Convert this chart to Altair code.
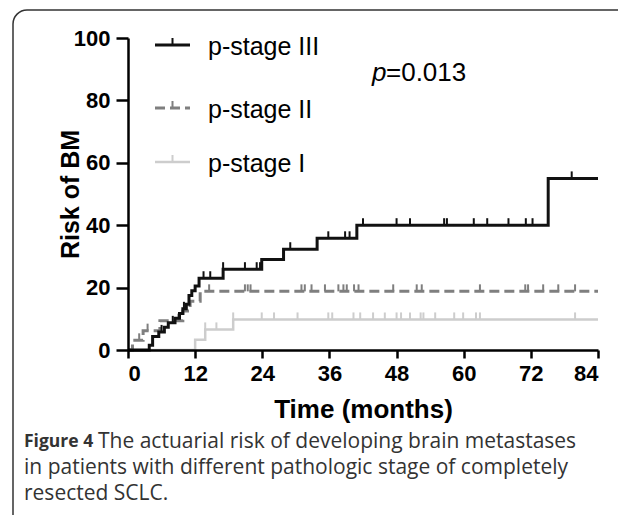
import altair as alt
import pandas as pd

# ---------------- data ----------------
x_ticks = [0, 12, 24, 36, 48, 60, 72, 84]
y_ticks = [0, 20, 40, 60, 80, 100]

groups = ["p-stage III", "p-stage II", "p-stage I"]

s3_times = [0, 3.8, 4.4, 5.5, 6.5, 7.2, 8.4, 9.2, 9.8, 10.4, 10.9, 11.4, 12.0, 12.7, 17.0, 23.9, 27.8, 33.8, 40.9, 75.1, 84]
s3_vals = [0, 1.5, 4.3, 5.8, 7.3, 8.7, 10.2, 11.7, 13.2, 14.7, 17.5, 19.0, 20.5, 23.0, 25.9, 29.0, 32.3, 35.8, 40.0, 55.0, 55.0]
s3_cens = [6.0, 8.0, 10.0, 13.5, 14.7, 17.0, 20.9, 23.0, 23.6, 29.0, 35.8, 38.8, 39.6, 42.0, 48.0, 50.4,
           56.5, 57.0, 61.8, 64.2, 68.0, 71.1, 72.3, 79.3]

s2_times = [0, 0.8, 2.7, 5.7, 9.8, 11.1, 12.9, 84]
s2_vals = [0, 3.1, 6.2, 9.4, 12.5, 15.6, 18.8, 18.8]
s2_cens = [2.0, 3.5, 9.0, 10.5, 14.5, 20.9, 21.4, 21.9, 31.0, 31.6, 32.8, 35.2, 37.6, 38.5, 39.1, 40.4, 41.2,
           47.4, 51.6, 52.5, 62.9, 71.0, 71.5, 74.2, 76.9, 79.9]

s1_times = [0, 12.0, 13.8, 18.8, 84]
s1_vals = [0, 3.3, 6.6, 9.8, 9.8]
s1_cens = [13.8, 15.8, 18.8, 23.9, 26.1, 30.3, 35.8, 36.5, 40.3, 41.5, 43.8, 45.9, 48.0, 48.8, 50.4, 52.3,
           52.8, 54.9, 58.3, 59.9, 62.2, 62.9, 79.9]

p_text = "=0.013"
caption_bold = "Figure 4"
caption_lines = [
    "The actuarial risk of developing brain metastases",
    "in patients with different pathologic stage of completely",
    "resected SCLC.",
]

# ---------------- styling ----------------
colors = {"p-stage III": "#111111", "p-stage II": "#7f7f7f", "p-stage I": "#cdcdcd"}
dashes = {"p-stage III": [1, 0], "p-stage II": [10, 5], "p-stage I": [1, 0]}
widths = {"p-stage III": 3, "p-stage II": 3, "p-stage I": 2.5}

W, H = 470, 312
FONT = "Liberation Sans"


def step_value(times, vals, t):
    v = vals[0]
    for tt, vv in zip(times, vals):
        if tt <= t:
            v = vv
    return v


series = {
    "p-stage III": (s3_times, s3_vals, s3_cens),
    "p-stage II": (s2_times, s2_vals, s2_cens),
    "p-stage I": (s1_times, s1_vals, s1_cens),
}

xscale = alt.Scale(domain=[0, 84], nice=False, zero=False)
yscale = alt.Scale(domain=[0, 100], nice=False)

x_axis = alt.Axis(values=x_ticks, title="Time (months)", grid=False, zindex=1,
                  labelFont=FONT, labelFontSize=22, labelFontWeight="bold", labelColor="#000",
                  labelPadding=5, tickSize=8, tickWidth=2.5, tickColor="#000",
                  domainWidth=2.5, domainColor="#000",
                  titleFont=FONT, titleFontSize=26, titleFontWeight="bold", titleColor="#000",
                  titleX=W / 2, titleY=59, titleBaseline="middle")
y_axis = alt.Axis(values=y_ticks, title="Risk of BM", grid=False, zindex=1,
                  labelFont=FONT, labelFontSize=22, labelFontWeight="bold", labelColor="#000",
                  labelPadding=6, tickSize=12, tickWidth=2.5, tickColor="#000",
                  domainWidth=2.5, domainColor="#000",
                  titleFont=FONT, titleFontSize=25, titleFontWeight="bold", titleColor="#000",
                  titleX=-58, titleY=H / 2, titleAngle=-90, titleBaseline="middle")

layers = []

# frame
frame = alt.Chart(pd.DataFrame({"a": [0]})).mark_rect(
    fillOpacity=0, stroke="#333333", strokeWidth=1.5, cornerRadius=14
).encode(x=alt.value(-115), x2=alt.value(540), y=alt.value(-28), y2=alt.value(530))
layers.append(frame)

for g in ["p-stage I", "p-stage II", "p-stage III"]:
    times, vals, cens = series[g]
    df = pd.DataFrame({"t": times, "v": vals})
    line = alt.Chart(df).mark_line(
        interpolate="step-after", color=colors[g], strokeWidth=widths[g], strokeDash=dashes[g],
        strokeCap="butt"
    ).encode(
        x=alt.X("t:Q", scale=xscale, axis=x_axis),
        y=alt.Y("v:Q", scale=yscale, axis=y_axis),
    )
    cdf = pd.DataFrame({"t": cens, "v": [step_value(times, vals, c) for c in cens]})
    ticks = alt.Chart(cdf).mark_tick(
        orient="vertical", color=colors[g], size=7, thickness=2, yOffset=-3.5, opacity=1
    ).encode(x=alt.X("t:Q", scale=xscale, axis=x_axis), y=alt.Y("v:Q", scale=yscale, axis=y_axis))
    layers += [line, ticks]

# legend
leg_y = [7, 70, 124]
for g, ly in zip(groups, leg_y):
    d = pd.DataFrame({"label": [g]})
    layers.append(alt.Chart(d).mark_rule(color=colors[g], strokeWidth=widths[g], strokeDash=dashes[g]).encode(
        x=alt.value(27), x2=alt.value(62), y=alt.value(ly)))
    layers.append(alt.Chart(d).mark_rule(color=colors[g], strokeWidth=2).encode(
        x=alt.value(44.5), y=alt.value(ly - 7), y2=alt.value(ly)))
    layers.append(alt.Chart(d).mark_text(
        align="left", baseline="middle", font=FONT, fontSize=25, color="#000"
    ).encode(text="label:N", x=alt.value(80), y=alt.value(ly + 2)))

# p-value
layers.append(alt.Chart(pd.DataFrame({"s": ["p"]})).mark_text(
    align="left", baseline="middle", font=FONT, fontSize=26, fontStyle="italic", color="#000"
).encode(text="s:N", x=alt.value(244), y=alt.value(35)))
layers.append(alt.Chart(pd.DataFrame({"s": [p_text]})).mark_text(
    align="left", baseline="middle", font=FONT, fontSize=26, color="#000"
).encode(text="s:N", x=alt.value(258), y=alt.value(35)))

# caption
layers.append(alt.Chart(pd.DataFrame({"s": [caption_bold]})).mark_text(
    align="left", baseline="middle", font="Open Sans", fontSize=17.5, fontWeight="bold", color="#333333"
).encode(text="s:N", x=alt.value(-104), y=alt.value(404)))
for i, line_txt in enumerate(caption_lines):
    layers.append(alt.Chart(pd.DataFrame({"s": [line_txt]})).mark_text(
        align="left", baseline="middle", font="Open Sans", fontSize=21, color="#333333"
    ).encode(text="s:N", x=alt.value(-30 if i == 0 else -104), y=alt.value(404 + 26 * i)))

chart = alt.layer(*layers).properties(
    width=W, height=H,
    autosize="none",
    padding={"left": 120, "top": 30, "right": 20, "bottom": 165},
).configure(background="white").configure_view(stroke=None)

chart.save("out.html", embed_options={"renderer": "svg", "actions": False})
